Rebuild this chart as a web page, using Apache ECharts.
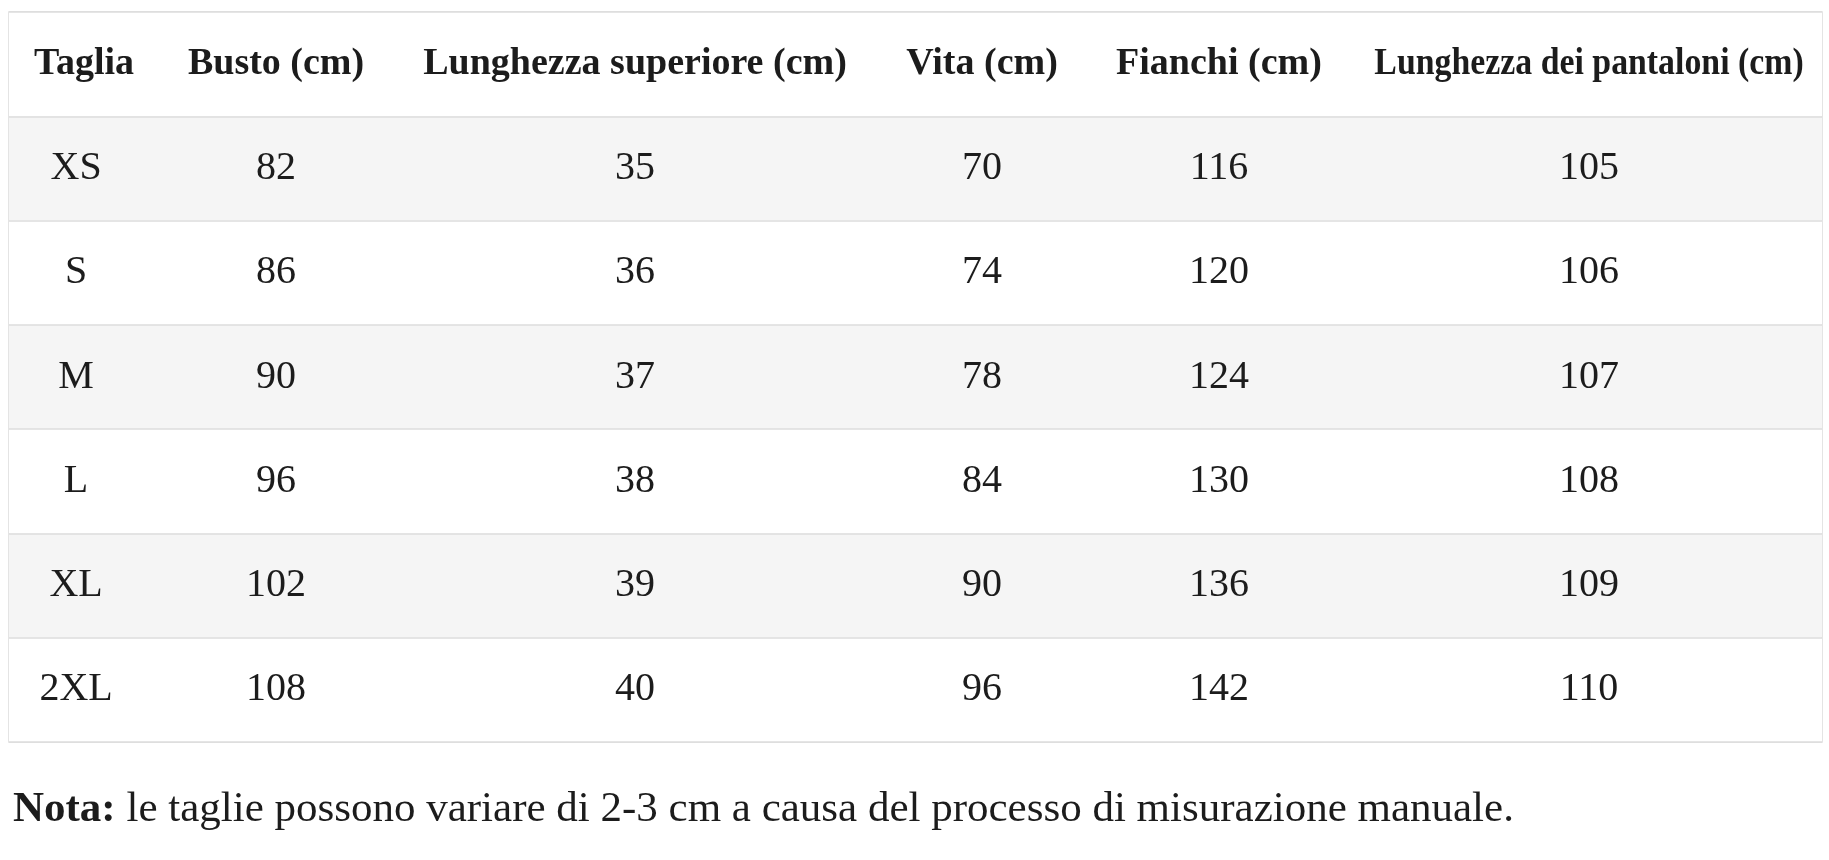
<!DOCTYPE html>
<html><head><meta charset="utf-8">
<script src="https://cdn.jsdelivr.net/npm/echarts@6/dist/echarts.min.js"></script>
<style>html,body{margin:0;padding:0;background:#fff}#c{width:1829px;height:860px}</style>
</head><body><div id="c"></div>
<script>
// ---- data ----
const headers = ['Taglia', 'Busto (cm)', 'Lunghezza superiore (cm)', 'Vita (cm)', 'Fianchi (cm)', 'Lunghezza dei pantaloni (cm)'];
const sizes = ['XS', 'S', 'M', 'L', 'XL', '2XL'];
const busto = [82, 86, 90, 96, 102, 108];
const lunghezzaSuperiore = [35, 36, 37, 38, 39, 40];
const vita = [70, 74, 78, 84, 90, 96];
const fianchi = [116, 120, 124, 130, 136, 142];
const lunghezzaPantaloni = [105, 106, 107, 108, 109, 110];
const notaLabel = 'Nota:';
const notaText = 'le taglie possono variare di 2-3 cm a causa del processo di misurazione manuale.';

// ---- layout (not data) ----
const headerCenters = [4.14, 14.73, 34.53, 53.67, 66.74, 87.15];
const dataCenters = [3.70, 14.73, 34.53, 53.67, 66.74, 87.15];
const headerScaleX = [1, 1, 1, 1, 1, 0.89];
const FONT = '"Liberation Serif", "Times New Roman", serif';
const INK = '#1c1c1c';

const columns = [sizes, busto, lunghezzaSuperiore, vita, fianchi, lunghezzaPantaloni];
const rowLabels = ['header'].concat(sizes);

const cells = [];
headers.forEach((h, c) => cells.push({ x: headerCenters[c], row: 0, text: h, header: true, col: c }));
columns.forEach((col, c) => col.forEach((v, r) => cells.push({ x: dataCenters[c], row: r + 1, text: String(v), header: false, col: c })));

const chart = echarts.init(document.getElementById('c'));
chart.setOption({
  backgroundColor: '#ffffff',
  animation: false,
  title: {
    left: 8, top: 783,
    text: '{b|' + notaLabel + '} ' + notaText,
    textStyle: {
      fontFamily: FONT, fontSize: 43, fontWeight: 'normal', color: INK,
      rich: { b: { fontFamily: FONT, fontSize: 43, fontWeight: 'bold', color: INK } }
    }
  },
  grid: { left: 9, right: 7, top: 12, bottom: 118, show: true, borderColor: '#dcdcdc', borderWidth: 1.5, backgroundColor: 'transparent' },
  xAxis: { type: 'value', min: 0, max: 100, show: false },
  yAxis: {
    type: 'category', data: rowLabels, inverse: true,
    axisLabel: { show: false }, axisTick: { show: false }, axisLine: { show: false },
    splitLine: { show: true, interval: 0, lineStyle: { color: '#dcdcdc', width: 1.5 } },
    splitArea: { show: true, interval: 0, areaStyle: { color: ['#ffffff', '#f5f5f5'] } }
  },
  series: [{
    type: 'custom',
    coordinateSystem: 'cartesian2d',
    data: cells.map(d => [d.x, d.row]),
    renderItem: function (params, api) {
      const d = cells[params.dataIndex];
      const p = api.coord([api.value(0), api.value(1)]);
      return {
        type: 'text',
        x: p[0], y: p[1],
        scaleX: d.header ? headerScaleX[d.col] : 1,
        style: {
          text: d.text, x: 0, y: 0, align: 'center', verticalAlign: 'middle',
          fontFamily: FONT, fontSize: d.header ? 38 : 40, fontWeight: d.header ? 'bold' : 'normal',
          fill: INK
        }
      };
    }
  }]
});
</script>
</body></html>
